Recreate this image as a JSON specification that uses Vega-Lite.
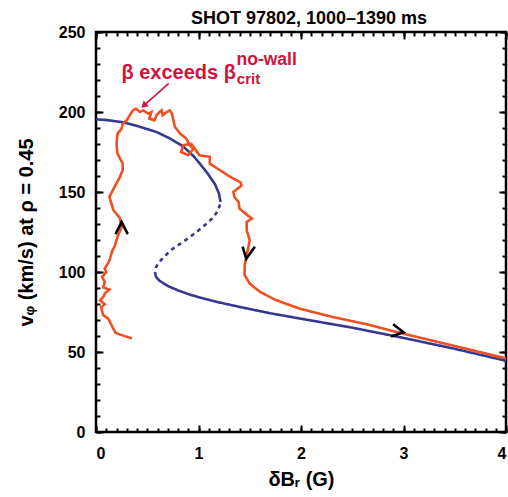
{
  "$schema": "https://vega.github.io/schema/vega-lite/v6.json",
  "width": 410,
  "height": 400,
  "autosize": "none",
  "padding": {"left": 96, "top": 32, "right": 2, "bottom": 65},
  "config": {
    "view": {"stroke": "black", "strokeWidth": 2.5},
    "font": "Liberation Sans",
    "axis": {"domain": false, "grid": false, "ticks": true, "tickColor": "black", "tickWidth": 2, "labelColor": "black", "labelFont": "Liberation Sans", "labelFontWeight": "bold", "labelFontSize": 16, "titleColor": "black", "titleFont": "Liberation Sans", "titleFontWeight": "bold", "titleFontSize": 20}
  },
  "title": {"text": "SHOT 97802, 1000–1390 ms", "fontSize": 18, "fontWeight": "bold", "font": "Liberation Sans", "color": "black", "anchor": "middle", "dx": 8, "offset": -4},
  "datasets": {
    "blue": [
      {"branch": "upper", "stab": "stable", "i": 1, "x": 0, "y": 195.4},
      {"branch": "upper", "stab": "stable", "i": 2, "x": 0.1, "y": 195},
      {"branch": "upper", "stab": "stable", "i": 3, "x": 0.26, "y": 193.6},
      {"branch": "upper", "stab": "stable", "i": 4, "x": 0.4, "y": 191.3},
      {"branch": "upper", "stab": "stable", "i": 5, "x": 0.59, "y": 187.5},
      {"branch": "upper", "stab": "stable", "i": 6, "x": 0.72, "y": 183.5},
      {"branch": "upper", "stab": "stable", "i": 7, "x": 0.85, "y": 178.5},
      {"branch": "upper", "stab": "stable", "i": 8, "x": 0.95, "y": 172.5},
      {"branch": "upper", "stab": "stable", "i": 9, "x": 1.01, "y": 168},
      {"branch": "upper", "stab": "stable", "i": 10, "x": 1.09, "y": 161.5},
      {"branch": "upper", "stab": "stable", "i": 11, "x": 1.16, "y": 155},
      {"branch": "upper", "stab": "stable", "i": 12, "x": 1.2, "y": 149},
      {"branch": "upper", "stab": "stable", "i": 13, "x": 1.215, "y": 143.7},
      {"branch": "middle", "stab": "unstable", "i": 1, "x": 1.21, "y": 142.2},
      {"branch": "middle", "stab": "unstable", "i": 2, "x": 1.19, "y": 138.5},
      {"branch": "middle", "stab": "unstable", "i": 3, "x": 1.15, "y": 134.5},
      {"branch": "middle", "stab": "unstable", "i": 4, "x": 1.09, "y": 130.8},
      {"branch": "middle", "stab": "unstable", "i": 5, "x": 1.0, "y": 126},
      {"branch": "middle", "stab": "unstable", "i": 6, "x": 0.92, "y": 122},
      {"branch": "middle", "stab": "unstable", "i": 7, "x": 0.83, "y": 118},
      {"branch": "middle", "stab": "unstable", "i": 8, "x": 0.75, "y": 114.6},
      {"branch": "middle", "stab": "unstable", "i": 9, "x": 0.68, "y": 110.5},
      {"branch": "middle", "stab": "unstable", "i": 10, "x": 0.62, "y": 106.5},
      {"branch": "middle", "stab": "unstable", "i": 11, "x": 0.585, "y": 103},
      {"branch": "middle", "stab": "unstable", "i": 12, "x": 0.575, "y": 100.5},
      {"branch": "lower", "stab": "stable", "i": 1, "x": 0.575, "y": 100},
      {"branch": "lower", "stab": "stable", "i": 2, "x": 0.585, "y": 97},
      {"branch": "lower", "stab": "stable", "i": 3, "x": 0.62, "y": 94.5},
      {"branch": "lower", "stab": "stable", "i": 4, "x": 0.7, "y": 91.3},
      {"branch": "lower", "stab": "stable", "i": 5, "x": 0.8, "y": 88.5},
      {"branch": "lower", "stab": "stable", "i": 6, "x": 0.9, "y": 86.2},
      {"branch": "lower", "stab": "stable", "i": 7, "x": 1.0, "y": 84.3},
      {"branch": "lower", "stab": "stable", "i": 8, "x": 1.2, "y": 81},
      {"branch": "lower", "stab": "stable", "i": 9, "x": 1.4, "y": 78.2},
      {"branch": "lower", "stab": "stable", "i": 10, "x": 1.7, "y": 74.2},
      {"branch": "lower", "stab": "stable", "i": 11, "x": 2.0, "y": 70.8},
      {"branch": "lower", "stab": "stable", "i": 12, "x": 2.5, "y": 65.2},
      {"branch": "lower", "stab": "stable", "i": 13, "x": 3.0, "y": 58.8},
      {"branch": "lower", "stab": "stable", "i": 14, "x": 3.5, "y": 52},
      {"branch": "lower", "stab": "stable", "i": 15, "x": 4.0, "y": 44.5}
    ],
    "orange": [
      {"i": 1, "x": 0.35, "y": 58.4},
      {"i": 2, "x": 0.26, "y": 60.4},
      {"i": 3, "x": 0.19, "y": 61.9},
      {"i": 4, "x": 0.16, "y": 65.6},
      {"i": 5, "x": 0.12, "y": 70.9},
      {"i": 6, "x": 0.07, "y": 73},
      {"i": 7, "x": 0.05, "y": 78},
      {"i": 8, "x": 0.085, "y": 79.8},
      {"i": 9, "x": 0.04, "y": 82.3},
      {"i": 10, "x": 0.07, "y": 84.4},
      {"i": 11, "x": 0.085, "y": 86.5},
      {"i": 12, "x": 0.13, "y": 89},
      {"i": 13, "x": 0.07, "y": 90.3},
      {"i": 14, "x": 0.085, "y": 93.8},
      {"i": 15, "x": 0.06, "y": 96.9},
      {"i": 16, "x": 0.1, "y": 100},
      {"i": 17, "x": 0.085, "y": 102},
      {"i": 18, "x": 0.13, "y": 107},
      {"i": 19, "x": 0.16, "y": 113.5},
      {"i": 20, "x": 0.18, "y": 115.6},
      {"i": 21, "x": 0.21, "y": 122},
      {"i": 22, "x": 0.25, "y": 128},
      {"i": 23, "x": 0.23, "y": 134},
      {"i": 24, "x": 0.17, "y": 138.6},
      {"i": 25, "x": 0.13, "y": 146.9},
      {"i": 26, "x": 0.18, "y": 153},
      {"i": 27, "x": 0.23, "y": 159},
      {"i": 28, "x": 0.26, "y": 163.6},
      {"i": 29, "x": 0.26, "y": 167.7},
      {"i": 30, "x": 0.21, "y": 174},
      {"i": 31, "x": 0.2, "y": 180},
      {"i": 32, "x": 0.21, "y": 186.5},
      {"i": 33, "x": 0.25, "y": 189.6},
      {"i": 34, "x": 0.26, "y": 192.7},
      {"i": 35, "x": 0.3, "y": 194.8},
      {"i": 36, "x": 0.33, "y": 198},
      {"i": 37, "x": 0.36, "y": 201},
      {"i": 38, "x": 0.39, "y": 202},
      {"i": 39, "x": 0.43, "y": 200},
      {"i": 40, "x": 0.46, "y": 201},
      {"i": 41, "x": 0.51, "y": 199},
      {"i": 42, "x": 0.54, "y": 200},
      {"i": 43, "x": 0.52, "y": 195.9},
      {"i": 44, "x": 0.57, "y": 194.8},
      {"i": 45, "x": 0.59, "y": 198},
      {"i": 46, "x": 0.62, "y": 200},
      {"i": 47, "x": 0.64, "y": 201},
      {"i": 48, "x": 0.65, "y": 198},
      {"i": 49, "x": 0.69, "y": 200},
      {"i": 50, "x": 0.72, "y": 201},
      {"i": 51, "x": 0.74, "y": 199},
      {"i": 52, "x": 0.77, "y": 190.6},
      {"i": 53, "x": 0.82, "y": 186.5},
      {"i": 54, "x": 0.88, "y": 183.4},
      {"i": 55, "x": 0.915, "y": 179.2},
      {"i": 56, "x": 0.95, "y": 177},
      {"i": 57, "x": 0.9, "y": 173},
      {"i": 58, "x": 0.83, "y": 175},
      {"i": 59, "x": 0.85, "y": 179.2},
      {"i": 60, "x": 0.93, "y": 180},
      {"i": 61, "x": 1.01, "y": 173},
      {"i": 62, "x": 1.11, "y": 172},
      {"i": 63, "x": 1.11, "y": 167.7},
      {"i": 64, "x": 1.21, "y": 163.6},
      {"i": 65, "x": 1.31, "y": 159.4},
      {"i": 66, "x": 1.41, "y": 156},
      {"i": 67, "x": 1.42, "y": 154},
      {"i": 68, "x": 1.34, "y": 150},
      {"i": 69, "x": 1.35, "y": 146.9},
      {"i": 70, "x": 1.39, "y": 143.8},
      {"i": 71, "x": 1.4, "y": 139.6},
      {"i": 72, "x": 1.48, "y": 135.4},
      {"i": 73, "x": 1.52, "y": 133.4},
      {"i": 74, "x": 1.47, "y": 131.3},
      {"i": 75, "x": 1.47, "y": 126},
      {"i": 76, "x": 1.5, "y": 119.8},
      {"i": 77, "x": 1.48, "y": 113.6},
      {"i": 78, "x": 1.45, "y": 104},
      {"i": 79, "x": 1.45, "y": 98},
      {"i": 80, "x": 1.5, "y": 92.8},
      {"i": 81, "x": 1.6, "y": 87.5},
      {"i": 82, "x": 1.76, "y": 82.3},
      {"i": 83, "x": 1.99, "y": 77},
      {"i": 84, "x": 2.31, "y": 71.9},
      {"i": 85, "x": 2.64, "y": 67.3},
      {"i": 86, "x": 2.96, "y": 62},
      {"i": 87, "x": 3.5, "y": 53.8},
      {"i": 88, "x": 4.0, "y": 46}
    ],
    "chevrons": [
      {"dir": "up", "x": 0.25, "y": 127.5},
      {"dir": "down", "x": 1.49, "y": 112},
      {"dir": "right", "x": 2.94, "y": 63.5}
    ],
    "notes": [
      {"part": "main", "label": "β exceeds β", "x": 0.248, "y": 220.9},
      {"part": "sup", "label": "no-wall", "x": 1.371, "y": 229.2},
      {"part": "sub", "label": "crit", "x": 1.374, "y": 217.75}
    ],
    "pointer": [
      {"x": 0.71, "y": 217.9, "x2": 0.466, "y2": 204.0}
    ]
  },
  "layer": [
    {
      "data": {"name": "blue"},
      "mark": {"type": "line", "color": "#37388f", "strokeWidth": 2.6, "clip": true},
      "encoding": {
        "x": {"field": "x", "type": "quantitative", "scale": {"domain": [0, 4], "nice": false, "zero": false},
              "axis": {"orient": "bottom", "offset": -7, "values": [0, 1, 2, 3, 4], "tickSize": 7, "labelPadding": 13, "labelExpr": "datum.value", "title": "δBᵣ (G)", "titlePadding": 8}},
        "y": {"field": "y", "type": "quantitative", "scale": {"domain": [0, 250], "nice": false, "zero": false},
              "axis": {"orient": "left", "offset": -7, "values": [0, 50, 100, 150, 200, 250], "tickSize": 7, "labelPadding": 11, "labelExpr": "datum.value", "title": "vᵩ (km/s) at ρ = 0.45", "titlePadding": 22}},
        "detail": {"field": "branch", "type": "nominal"},
        "order": {"field": "i", "type": "quantitative"},
        "strokeDash": {"field": "stab", "type": "nominal", "scale": {"domain": ["stable", "unstable"], "range": [[1, 0], [4, 4]]}, "legend": null}
      }
    },
    {
      "data": {"name": "orange"},
      "mark": {"type": "line", "color": "#ef4f22", "strokeWidth": 2.6, "clip": true},
      "encoding": {
        "x": {"field": "x", "type": "quantitative", "scale": {"domain": [0, 4], "nice": false, "zero": false},
              "axis": {"orient": "bottom", "offset": -4, "values": [0,0.1,0.2,0.3,0.4,0.5,0.6,0.7,0.8,0.9,1,1.1,1.2,1.3,1.4,1.5,1.6,1.7,1.8,1.9,2,2.1,2.2,2.3,2.4,2.5,2.6,2.7,2.8,2.9,3,3.1,3.2,3.3,3.4,3.5,3.6,3.7,3.8,3.9,4], "tickSize": 4, "labels": false, "title": null}},
        "y": {"field": "y", "type": "quantitative", "scale": {"domain": [0, 250], "nice": false, "zero": false},
              "axis": {"orient": "left", "offset": -4, "values": [0,10,20,30,40,50,60,70,80,90,100,110,120,130,140,150,160,170,180,190,200,210,220,230,240,250], "tickSize": 4, "labels": false, "title": null}},
        "order": {"field": "i", "type": "quantitative"}
      }
    },
    {
      "data": {"name": "chevrons"},
      "mark": {"type": "point", "filled": false, "stroke": "black", "strokeWidth": 2.6, "size": 150, "opacity": 1},
      "encoding": {
        "x": {"field": "x", "type": "quantitative", "scale": {"domain": [0, 4], "nice": false, "zero": false},
              "axis": {"orient": "top", "offset": -7, "values": [0, 1, 2, 3, 4], "tickSize": 7, "labels": false, "title": null}},
        "y": {"field": "y", "type": "quantitative", "scale": {"domain": [0, 250], "nice": false, "zero": false},
              "axis": {"orient": "right", "offset": -7, "values": [0, 50, 100, 150, 200, 250], "tickSize": 7, "labels": false, "title": null}},
        "shape": {"field": "dir", "type": "nominal", "scale": {"domain": ["up", "down", "right"], "range": ["M-1,1L0,-1L1,1", "M-1,-1L-0.4,1L1,-1", "M-0.7,-1L1,0.3L-1,1"]}, "legend": null}
      }
    },
    {
      "data": {"name": "notes"},
      "mark": {"type": "text", "align": "left", "baseline": "alphabetic", "fontWeight": "bold", "font": "Liberation Sans", "color": "#d1133c"},
      "encoding": {
        "x": {"field": "x", "type": "quantitative", "scale": {"domain": [0, 4], "nice": false, "zero": false},
              "axis": {"orient": "top", "offset": -4, "values": [0,0.1,0.2,0.3,0.4,0.5,0.6,0.7,0.8,0.9,1,1.1,1.2,1.3,1.4,1.5,1.6,1.7,1.8,1.9,2,2.1,2.2,2.3,2.4,2.5,2.6,2.7,2.8,2.9,3,3.1,3.2,3.3,3.4,3.5,3.6,3.7,3.8,3.9,4], "tickSize": 4, "labels": false, "title": null}},
        "y": {"field": "y", "type": "quantitative", "scale": {"domain": [0, 250], "nice": false, "zero": false},
              "axis": {"orient": "right", "offset": -4, "values": [0,10,20,30,40,50,60,70,80,90,100,110,120,130,140,150,160,170,180,190,200,210,220,230,240,250], "tickSize": 4, "labels": false, "title": null}},
        "text": {"field": "label", "type": "nominal"},
        "size": {"field": "part", "type": "nominal", "scale": {"domain": ["main", "sup", "sub"], "range": [20, 15, 15]}, "legend": null}
      }
    },
    {
      "data": {"name": "pointer"},
      "mark": {"type": "rule", "color": "#d1133c", "strokeWidth": 1.6},
      "encoding": {
        "x": {"field": "x", "type": "quantitative", "scale": {"domain": [0, 4], "nice": false, "zero": false}, "axis": null},
        "y": {"field": "y", "type": "quantitative", "scale": {"domain": [0, 250], "nice": false, "zero": false}, "axis": null},
        "x2": {"field": "x2"},
        "y2": {"field": "y2"}
      }
    },
    {
      "data": {"name": "pointer"},
      "mark": {"type": "point", "shape": "triangle-up", "filled": true, "color": "#d1133c", "size": 60, "angle": 228, "opacity": 1},
      "encoding": {
        "x": {"field": "x2", "type": "quantitative", "scale": {"domain": [0, 4], "nice": false, "zero": false}, "axis": null},
        "y": {"field": "y2", "type": "quantitative", "scale": {"domain": [0, 250], "nice": false, "zero": false}, "axis": null}
      }
    }
  ],
  "resolve": {"axis": {"x": "independent", "y": "independent"}}
}
